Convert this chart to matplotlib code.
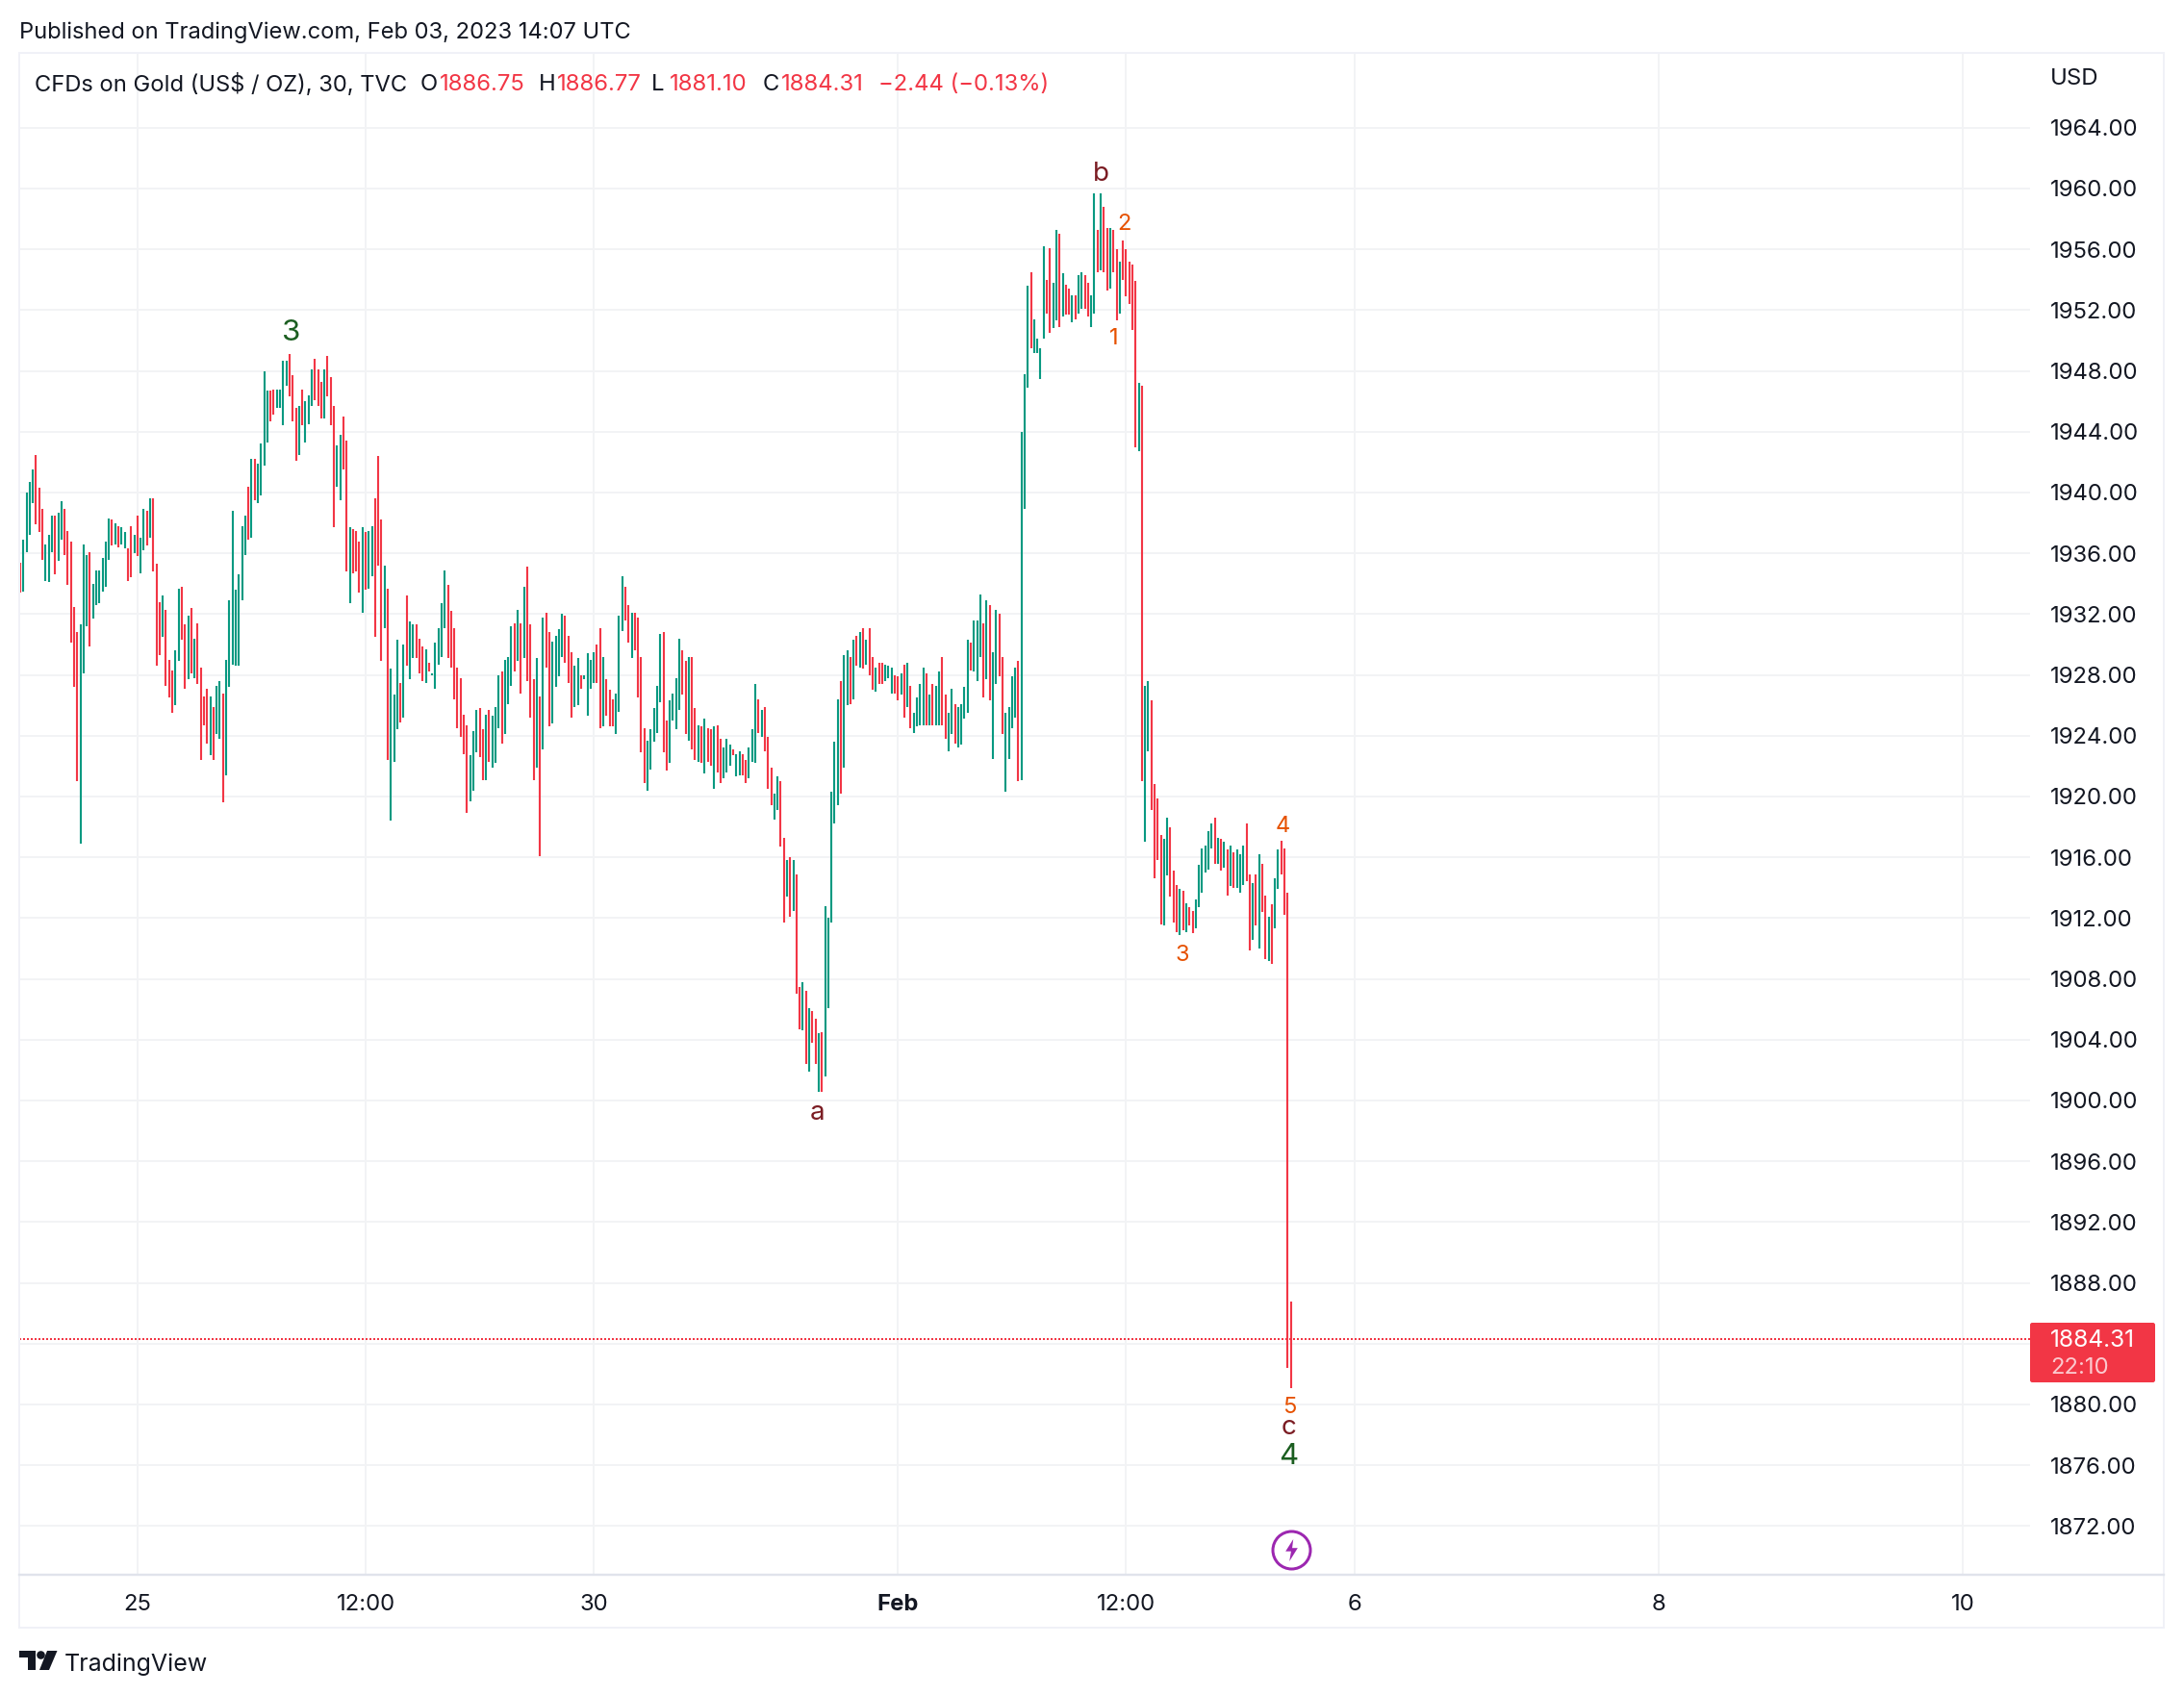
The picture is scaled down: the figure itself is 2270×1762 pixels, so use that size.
import numpy as np
import matplotlib
matplotlib.use("Agg")
import matplotlib.pyplot as plt
from matplotlib.patches import Polygon, Circle, Rectangle, FancyBboxPatch

plt.rcParams['font.family'] = ['Inter', 'DejaVu Sans']

# 30 minute bars
highs = [
    1935.4, 1936.9, 1940.0, 1940.7, 1941.5, 1942.5, 1940.3, 1938.9, 1936.6, 1937.2,
    1938.5, 1938.5, 1938.7, 1939.4, 1938.9, 1937.5, 1936.8, 1932.5, 1930.8, 1931.3,
    1936.6, 1935.9, 1936.1, 1934.0, 1934.9, 1934.9, 1935.7, 1936.8, 1938.3, 1938.2,
    1938.0, 1937.8, 1937.7, 1937.4, 1936.3, 1937.8, 1937.2, 1938.5, 1937.0, 1938.9,
    1938.8, 1939.6, 1939.6, 1935.3, 1932.8, 1933.2, 1932.3, 1929.0, 1928.3, 1929.6,
    1933.7, 1933.8, 1931.3, 1931.9, 1932.4, 1930.4, 1931.4, 1928.5, 1926.6, 1927.1,
    1926.6, 1925.9, 1927.3, 1927.6, 1926.8, 1929.0, 1932.9, 1938.8, 1933.6, 1934.6,
    1937.8, 1938.5, 1940.4, 1942.2, 1942.2, 1941.9, 1943.2, 1948.0, 1946.7, 1946.7,
    1946.8, 1946.8, 1946.8, 1948.7, 1948.7, 1949.1, 1947.7, 1945.6, 1945.7, 1946.8,
    1946.0, 1946.4, 1948.1, 1948.8, 1948.1, 1947.3, 1948.1, 1949.0, 1947.6, 1945.7,
    1943.1, 1943.8, 1945.0, 1943.4, 1937.7, 1937.6, 1937.5, 1936.8, 1937.7, 1937.4,
    1937.5, 1937.8, 1939.6, 1942.4, 1938.2, 1935.2, 1933.7, 1928.4, 1926.7, 1930.3,
    1927.5, 1930.0, 1933.2, 1931.5, 1931.3, 1931.3, 1930.4, 1929.9, 1929.7, 1928.8,
    1928.1, 1930.1, 1931.1, 1932.7, 1934.9, 1933.9, 1932.2, 1931.1, 1928.5, 1927.8,
    1925.4, 1924.7, 1922.7, 1924.3, 1925.7, 1925.8, 1924.4, 1925.4, 1925.7, 1925.3,
    1925.9, 1928.0, 1928.2, 1929.0, 1929.2, 1931.2, 1931.4, 1932.3, 1931.4, 1933.8,
    1935.1, 1931.3, 1927.7, 1929.1, 1926.6, 1931.8, 1932.1, 1930.8, 1930.2, 1930.6,
    1931.0, 1932.0, 1931.9, 1930.6, 1929.5, 1928.6, 1929.1, 1928.0, 1928.0, 1929.4,
    1929.0, 1929.5, 1930.0, 1931.1, 1929.2, 1927.7, 1927.0, 1926.4, 1926.8, 1931.9,
    1934.5, 1933.8, 1932.6, 1932.1, 1932.1, 1931.8, 1929.2, 1924.5, 1923.7, 1924.4,
    1925.8, 1927.3, 1930.7, 1930.8, 1925.0, 1926.3, 1926.8, 1927.8, 1930.4, 1929.6,
    1928.9, 1929.2, 1929.2, 1925.8, 1924.7, 1924.6, 1925.1, 1924.5, 1924.4, 1924.6,
    1924.7, 1923.8, 1923.2, 1923.8, 1923.4, 1923.1, 1922.8, 1923.0, 1922.8, 1922.4,
    1923.2, 1924.4, 1927.4, 1926.4, 1925.7, 1925.9, 1923.9, 1921.9, 1920.2, 1921.3,
    1921.0, 1917.3, 1915.8, 1916.0, 1915.8, 1914.9, 1907.5, 1907.8, 1907.2, 1906.1,
    1905.9, 1905.4, 1904.4, 1904.5, 1912.8, 1912.0, 1920.3, 1923.6, 1926.4, 1927.6,
    1929.3, 1929.6, 1929.2, 1930.3, 1930.6, 1930.8, 1931.1, 1930.3, 1931.1, 1929.2,
    1928.5, 1928.8, 1928.8, 1928.7, 1928.6, 1928.5, 1928.0, 1927.9, 1928.1, 1928.7,
    1928.8, 1927.3, 1925.5, 1926.5, 1927.4, 1928.5, 1928.1, 1926.7, 1927.4, 1927.3,
    1928.2, 1929.2, 1926.7, 1925.5, 1927.1, 1926.1, 1925.9, 1926.1, 1927.2, 1930.3,
    1930.1, 1931.6, 1931.6, 1933.3, 1931.4, 1932.9, 1932.6, 1929.5, 1932.3, 1932.0,
    1929.2, 1925.5, 1925.9, 1927.9, 1928.5, 1928.9, 1944.0, 1947.8, 1953.6, 1954.5,
    1951.4, 1950.1, 1949.5, 1956.2, 1954.0, 1956.1, 1953.8, 1957.3, 1957.0, 1954.4,
    1953.7, 1953.4, 1953.0, 1953.0, 1954.3, 1954.5, 1954.3, 1953.8, 1953.0, 1959.7,
    1957.3, 1959.7, 1958.8, 1957.4, 1957.4, 1957.3, 1956.0, 1955.2, 1956.6, 1956.0,
    1955.2, 1955.0, 1953.9, 1947.2, 1947.0, 1927.3, 1927.6, 1926.3, 1920.8, 1919.9,
    1917.5, 1917.2, 1918.6, 1918.0, 1915.1, 1914.2, 1913.9, 1913.8, 1913.0, 1912.7,
    1912.5, 1913.2, 1915.5, 1916.6, 1916.8, 1917.7, 1918.2, 1918.6, 1917.3, 1917.2,
    1917.0, 1916.5, 1916.8, 1916.3, 1916.5, 1916.2, 1916.8, 1918.2, 1914.9, 1914.3,
    1914.9, 1916.2, 1915.6, 1913.5, 1912.1, 1912.9, 1914.6, 1916.5, 1917.1, 1916.6,
    1913.7, 1886.77,
]
lows = [
    1933.4, 1933.5, 1936.1, 1937.2, 1939.3, 1937.9, 1937.4, 1935.6, 1934.2, 1934.1,
    1936.1, 1934.6, 1935.5, 1936.9, 1935.9, 1933.9, 1930.1, 1927.2, 1921.0, 1916.9,
    1928.1, 1931.2, 1929.9, 1931.7, 1932.6, 1932.7, 1933.5, 1933.8, 1935.6, 1936.5,
    1936.6, 1936.4, 1936.6, 1936.3, 1934.2, 1934.4, 1936.0, 1935.8, 1934.7, 1936.2,
    1936.5, 1937.0, 1934.8, 1928.6, 1929.3, 1930.5, 1927.3, 1926.5, 1925.5, 1926.0,
    1928.9, 1930.3, 1927.1, 1927.7, 1928.1, 1927.8, 1927.4, 1922.4, 1924.7, 1923.5,
    1922.7, 1922.4, 1924.1, 1923.8, 1919.6, 1921.4, 1927.2, 1928.7, 1928.6, 1928.6,
    1932.9, 1935.9, 1936.9, 1937.0, 1939.5, 1939.3, 1939.8, 1941.8, 1943.3, 1944.7,
    1945.1, 1945.6, 1945.6, 1944.4, 1947.0, 1946.3, 1944.7, 1942.1, 1942.5, 1944.4,
    1943.3, 1944.5, 1945.7, 1946.1, 1945.7, 1944.9, 1944.9, 1946.3, 1944.4, 1937.7,
    1940.4, 1939.5, 1941.5, 1934.8, 1932.7, 1934.7, 1934.8, 1933.4, 1932.1, 1933.6,
    1933.7, 1934.5, 1930.5, 1935.2, 1928.9, 1931.1, 1922.4, 1918.4, 1922.3, 1924.4,
    1924.9, 1925.2, 1928.6, 1927.7, 1929.1, 1929.1, 1928.1, 1927.6, 1927.5, 1928.2,
    1928.0, 1927.1, 1928.7, 1929.2, 1931.1, 1929.1, 1928.5, 1926.4, 1924.5, 1923.9,
    1922.8, 1918.9, 1919.7, 1920.4, 1922.9, 1922.6, 1921.1, 1921.1, 1922.3, 1921.9,
    1922.2, 1924.5, 1923.5, 1924.1, 1926.1, 1927.3, 1928.2, 1928.9, 1926.8, 1929.1,
    1927.6, 1925.2, 1921.1, 1921.9, 1916.1, 1923.1, 1928.5, 1924.6, 1924.8, 1927.2,
    1927.9, 1929.2, 1928.8, 1927.5, 1925.2, 1925.9, 1926.0, 1927.1, 1927.7, 1925.3,
    1927.1, 1927.5, 1927.5, 1924.5, 1924.6, 1925.3, 1924.6, 1924.6, 1924.1, 1925.6,
    1930.9, 1931.6, 1930.1, 1929.1, 1929.6, 1926.5, 1922.9, 1920.9, 1920.4, 1921.8,
    1923.6, 1924.2, 1926.2, 1922.9, 1921.7, 1922.2, 1925.0, 1924.4, 1925.7, 1926.7,
    1924.1, 1923.7, 1923.1, 1922.4, 1922.3, 1922.2, 1921.5, 1922.3, 1922.0, 1920.5,
    1921.6, 1920.9, 1921.2, 1921.6, 1922.0, 1922.7, 1921.3, 1921.4, 1921.4, 1920.9,
    1921.2, 1922.3, 1922.2, 1924.2, 1923.9, 1923.0, 1920.5, 1919.4, 1918.5, 1919.1,
    1916.7, 1911.7, 1913.4, 1912.1, 1912.5, 1907.0, 1904.7, 1904.6, 1902.4, 1901.9,
    1903.8, 1902.4, 1900.6, 1900.6, 1901.6, 1906.1, 1911.7, 1918.2, 1919.4, 1920.2,
    1921.9, 1926.0, 1926.1, 1926.4, 1928.6, 1928.5, 1928.4, 1928.7, 1928.0, 1927.0,
    1926.9, 1927.4, 1927.4, 1927.6, 1927.8, 1926.8, 1926.8, 1926.3, 1926.7, 1925.2,
    1925.9, 1924.5, 1924.2, 1924.6, 1924.7, 1924.7, 1924.7, 1924.7, 1924.7, 1924.7,
    1924.7, 1924.7, 1923.8, 1923.0, 1924.1, 1923.5, 1923.2, 1923.4, 1925.1, 1925.5,
    1928.3, 1928.2, 1927.6, 1929.2, 1926.5, 1927.7, 1926.3, 1922.5, 1927.4, 1927.9,
    1924.1, 1920.3, 1922.5, 1924.5, 1925.2, 1921.0, 1921.1, 1938.9, 1946.9, 1949.5,
    1949.2, 1949.2, 1947.5, 1950.1, 1951.8, 1950.5, 1950.8, 1951.3, 1950.9, 1951.6,
    1951.7, 1951.7, 1951.2, 1951.4, 1951.8, 1952.1, 1952.1, 1951.6, 1950.9, 1951.8,
    1954.5, 1954.6, 1954.5, 1953.3, 1953.4, 1954.5, 1951.3, 1951.8, 1954.0, 1952.9,
    1952.4, 1950.7, 1943.0, 1942.7, 1921.0, 1917.0, 1923.0, 1919.1, 1914.6, 1915.8,
    1911.6, 1911.5, 1914.8, 1913.4, 1911.7, 1911.1, 1910.9, 1911.2, 1911.1, 1911.5,
    1911.0, 1911.3, 1912.7, 1913.7, 1915.0, 1915.2, 1916.6, 1915.6, 1915.6, 1915.1,
    1915.3, 1913.5, 1914.1, 1914.0, 1914.0, 1913.7, 1914.2, 1914.4, 1909.9, 1910.6,
    1911.5, 1910.0, 1912.4, 1909.3, 1909.2, 1909.0, 1911.3, 1913.9, 1914.9, 1912.2,
    1882.4, 1881.10,
]
# 1 = up bar, 0 = down bar
up = (
    "0111100011" "1011000001" "1101111110" "1011001011" "0100010001"
    "1001010000" "1011011111" "1101011110" "0111100010" "1110001000"
    "1100100010" "1100010111" "0101100010" "1111100000" "0011100101"
    "1101110101" "0001010011" "1100011011" "1100100011" "1001000011"
    "1110011110" "0100101001" "0011101100" "1110100011" "0010100101"
    "0010111110" "1101010100" "1001110010" "1011110101" "1001101111"
    "0111010110" "0111101110" "1111001101" "0010110011" "0100100100"
    "0001011000" "0110001010" "0111111010" "1010111001" "0100101100"
    "00"
)

price_ticks = [1872 + 4 * k for k in range(24)]
time_pos = [37, 109, 181, 277, 349, 421, 517, 613]
time_labels = ["25", "12:00", "30", "Feb", "12:00", "6", "8", "10"]

last_close = 1884.31
countdown = "22:10"

wave_text = ["3", "b", "2", "1", "a", "3", "4", "5", "c", "4"]
wave_idx = [85.5, 341, 348.3, 345.2, 251.7, 366.8, 398.4, 400.5, 400.5, 400.2]
wave_price = [1950.5, 1960.95, 1957.65, 1950.15, 1899.15, 1909.55, 1918.05, 1879.8, 1878.5, 1876.6]
wave_kind = ["big", "mid", "small", "small", "mid", "small", "small", "small", "mid", "big"]

RED = "#F23645"
GREEN = "#089981"
INK = "#131722"
GRID = "#F2F3F5"
W, H = 2270, 1762

def fx(x):
    return x / W

def fy(y):
    return 1 - y / H

def lw(px):
    return px * 0.72

fig = plt.figure(figsize=(W / 100, H / 100), dpi=100, facecolor="white")
ax = fig.add_axes([fx(20), fy(1637), fx(2110) - fx(20), fy(55) - fy(1637)])
ax.set_xlim(-0.3, 634.3)
ax.set_ylim(1940 - (1637 - 512) / 15.8, 1940 + (512 - 55) / 15.8)
for s in ax.spines.values():
    s.set_visible(False)
ax.set_axisbelow(True)
ax.grid(True, color=GRID, lw=lw(2))

idx = np.arange(len(highs))
colors = [GREEN if c == "1" else RED for c in up]
ax.vlines(idx, lows, highs, colors=colors, lw=lw(2.1), capstyle="butt", zorder=3)

ax.axhline(last_close, color=RED, lw=lw(2), ls=(0, (1, 1)), zorder=4)

ax.yaxis.tick_right()
ax.set_yticks(price_ticks)
# the 1884 label sits behind the last price tag in the original
ax.set_yticklabels(["" if p == 1884 else f"{p:.2f}" for p in price_ticks])
ax.tick_params(axis="y", length=0, pad=15, labelsize=17.2, labelcolor=INK)
ax.set_xticks(time_pos)
ax.set_xticklabels(time_labels)
ax.tick_params(axis="x", length=0, pad=14.5, labelsize=17.2, labelcolor=INK)
ax.get_xticklabels()[3].set_fontweight("bold")

wave_style = {
    "big": (22.5, "#1B5E20"),
    "mid": (20, "#7B1C23"),
    "small": (17, "#E65100"),
}
for t, i, p, k in zip(wave_text, wave_idx, wave_price, wave_kind):
    size, col = wave_style[k]
    ax.text(i, p, t, fontsize=size, color=col, ha="center", va="center", zorder=5)

# lightning event marker on the last bar
event_price = 1940 - (1611 - 512) / 15.8
bolt = [(0.15, 1), (-0.55, -0.1), (-0.05, -0.1), (-0.2, -1), (0.55, 0.2), (0.05, 0.2), (0.15, 1)]
ax.plot([len(highs) - 1], [event_price], marker="o", ms=lw(39), mfc="white",
        mec="#9C27B0", mew=lw(3), zorder=5, clip_on=False)
ax.plot([len(highs) - 1], [event_price], marker=bolt, ms=lw(23), mfc="#9C27B0",
        mec="none", zorder=6, clip_on=False)

# outer frame and time axis line
fig.add_artist(Rectangle((fx(20), fy(1692)), fx(2249) - fx(20), fy(55) - fy(1692),
                         transform=fig.transFigure, fill=False, ec="#F0F1F7", lw=lw(2)))
fig.add_artist(plt.Line2D([fx(20), fx(2249)], [fy(1637), fy(1637)], color="#E0E3EB", lw=lw(2.4)))

# last price tag
fig.add_artist(FancyBboxPatch((fx(2110), fy(1437)), fx(2240) - fx(2110), fy(1375) - fy(1437),
                              boxstyle="round,pad=0,rounding_size=0.001",
                              transform=fig.transFigure, fc=RED, ec="none", mutation_aspect=1.3))
fig.text(fx(2131), fy(1394), f"{last_close:.2f}", color="white", fontsize=17.6, va="center")
fig.text(fx(2131), fy(1422), countdown, color="#FBC9CE", fontsize=17.2, va="center")
fig.text(fx(2131), fy(82.5), "USD", color=INK, fontsize=17.2, va="center")

# header
fig.text(fx(20), fy(33.5), "Published on TradingView.com, Feb 03, 2023 14:07 UTC",
         color=INK, fontsize=17.05, va="center")
fig.text(fx(36), fy(88), "CFDs on Gold (US$ / OZ), 30, TVC", color=INK, fontsize=17.1, va="center")
legend_parts = [
    (437, "O", INK), (457, "1886.75", RED),
    (560, "H", INK), (579, "1886.77", RED),
    (677, "L", INK), (696, "1881.10", RED),
    (793, "C", INK), (812, "1884.31", RED),
    (913, "\u22122.44 (\u22120.13%)", RED),
]
for x, t, c in legend_parts:
    fig.text(fx(x), fy(88), t, color=c, fontsize=17.2, va="center")

# TradingView logo
logo_ink = "#131722"
fig.add_artist(Polygon([(fx(20), fy(1716)), (fx(37), fy(1716)), (fx(37), fy(1736)), (fx(28.5), fy(1736)),
                        (fx(28.5), fy(1723)), (fx(20), fy(1723))],
                       transform=fig.transFigure, fc=logo_ink, ec="none"))
fig.add_artist(Polygon([(fx(49), fy(1716)), (fx(59.5), fy(1716)), (fx(51), fy(1736)), (fx(41), fy(1736))],
                       transform=fig.transFigure, fc=logo_ink, ec="none"))
logo_dot = Circle((42.5, H - 1720.5), 4.3, transform=None, fc=logo_ink, ec="none")
fig.add_artist(logo_dot)
fig.text(fx(67), fy(1730), "TradingView", color=logo_ink, fontsize=18, va="center")

fig.savefig("out.png", dpi=100)
